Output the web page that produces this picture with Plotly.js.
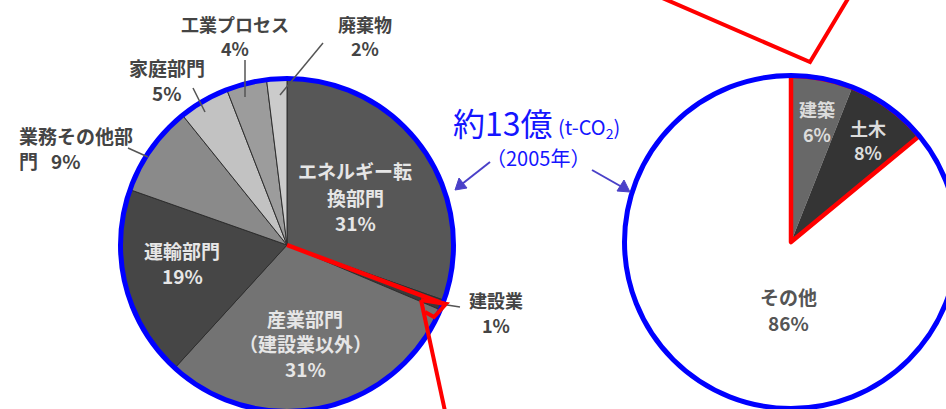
<!DOCTYPE html>
<html><head><meta charset="utf-8">
<script src="https://cdn.plot.ly/plotly-3.0.1.min.js"></script>
<style>html,body{margin:0;padding:0;overflow:hidden;background:#fff}#chart{width:970px;height:420px}</style>
</head><body><div id="chart"></div>
<script>
// ---- data ----
const mainLabels = ['エネルギー転換部門','建設業','産業部門（建設業以外）','運輸部門','業務その他部門','家庭部門','工業プロセス','廃棄物'];
const mainLines = [['エネルギー転','換部門'],['建設業'],['産業部門','（建設業以外）'],['運輸部門'],['業務その他部'],['家庭部門'],['工業プロセス'],['廃棄物']];
const mainValues = [31, 1, 31, 19, 9, 5, 4, 2];
const subLabels = ['建築','土木','その他'];
const subValues = [6, 8, 86];
const totalText = '約13億';
const unitText = '(t-CO<sub>2</sub>)';
const yearText = '（2005年）';

// ---- style ----
const mainColors = ['#575757','#3a3a3a','#737373','#464646','#8a8a8a','#c2c2c2','#9c9c9c','#cbcbcb'];
const subColors = ['#686868','#343434','#ffffff'];
const W = 970, H = 420;
const X = p => p / W, Y = p => 1 - p / H;
const L = {cx: 287, cy: 245, r: 166};
const R = {cx: 791, cy: 242, r: 166};
const font = 'Noto Sans CJK JP';

function dom(c){ return {x:[X(c.cx-c.r), X(c.cx+c.r)], y:[Y(c.cy+c.r), Y(c.cy-c.r)]}; }

const traces = [
  {type:'pie', labels: mainLabels, values: mainValues, sort:false, direction:'clockwise', rotation:0,
   marker:{colors: mainColors, line:{color:'#2e2e2e', width:1}}, textinfo:'none', hoverinfo:'skip', domain: dom(L)},
  {type:'pie', labels: subLabels, values: subValues, sort:false, direction:'clockwise', rotation:0,
   marker:{colors: subColors, line:{color:'rgba(0,0,0,0)', width:0}}, textinfo:'none', hoverinfo:'skip', domain: dom(R)},
  {type:'pie', labels: ['建設業（建築・土木）','その他 '], values: [subValues[0]+subValues[1], subValues[2]], sort:false, direction:'clockwise', rotation:0,
   marker:{colors:['rgba(0,0,0,0)','rgba(0,0,0,0)'], line:{color:['#ff0000','rgba(0,0,0,0)'], width:[4.5,0]}},
   textinfo:'none', hoverinfo:'skip', domain: dom(R)}
];

const total = mainValues.reduce((a,b)=>a+b,0);
const th = mainValues[0]/total*2*Math.PI;
const rimX = L.cx + L.r*Math.sin(th), rimY = L.cy - L.r*Math.cos(th);

const shapes = [
  {type:'circle', xref:'paper', yref:'paper', x0:X(L.cx-L.r-0.5), x1:X(L.cx+L.r+0.5), y0:Y(L.cy+L.r+0.5), y1:Y(L.cy-L.r-0.5), line:{color:'#0000ff', width:5}},
  {type:'circle', xref:'paper', yref:'paper', x0:X(R.cx-R.r-0.5), x1:X(R.cx+R.r+0.5), y0:Y(R.cy+R.r+0.5), y1:Y(R.cy-R.r-0.5), line:{color:'#0000ff', width:5}},
  {type:'line', xref:'paper', yref:'paper', x0:X(L.cx), y0:Y(L.cy), x1:X(rimX+1), y1:Y(rimY+4), line:{color:'#ff0000', width:4.5}},
  {type:'path', xref:'paper', yref:'paper', path:`M ${X(421)} ${Y(300)} L ${X(446)} ${Y(304)} L ${X(434)} ${Y(317)} L ${X(425)} ${Y(312)}`, line:{color:'#ff0000', width:4}},
  {type:'line', xref:'paper', yref:'paper', x0:X(421), y0:Y(300), x1:X(448), y1:Y(425), line:{color:'#ff0000', width:4}},
  {type:'path', xref:'paper', yref:'paper', path:`M ${X(660)} ${Y(-3)} L ${X(810)} ${Y(62)} L ${X(849)} ${Y(-3)}`, line:{color:'#ff0000', width:4}},
  // leader lines
  {type:'line', xref:'paper', yref:'paper', x0:X(323), y0:Y(43), x1:X(280), y1:Y(95), line:{color:'#555', width:1.5}},
  {type:'line', xref:'paper', yref:'paper', x0:X(245), y0:Y(60), x1:X(245), y1:Y(97), line:{color:'#555', width:1.5}},
  {type:'line', xref:'paper', yref:'paper', x0:X(193), y0:Y(88), x1:X(205), y1:Y(112), line:{color:'#555', width:1.5}},
  {type:'line', xref:'paper', yref:'paper', x0:X(128), y0:Y(148), x1:X(148), y1:Y(157), line:{color:'#555', width:1.5}},
  {type:'line', xref:'paper', yref:'paper', x0:X(447), y0:Y(305), x1:X(460), y1:Y(307), line:{color:'#555', width:1.5}},
  // arrows
  {type:'line', xref:'paper', yref:'paper', x0:X(490), y0:Y(162), x1:X(462), y1:Y(184), line:{color:'#4a40c8', width:2}},
  {type:'line', xref:'paper', yref:'paper', x0:X(592), y0:Y(170), x1:X(622), y1:Y(187), line:{color:'#4a40c8', width:2}},
  {type:'path', xref:'paper', yref:'paper', path:`M ${X(455)} ${Y(190)} L ${X(459)} ${Y(178)} L ${X(467)} ${Y(188)} Z`, fillcolor:'#4a40c8', line:{color:'#4a40c8', width:1}},
  {type:'path', xref:'paper', yref:'paper', path:`M ${X(630)} ${Y(192)} L ${X(617)} ${Y(191)} L ${X(624)} ${Y(180)} Z`, fillcolor:'#4a40c8', line:{color:'#4a40c8', width:1}}
];

const inC = '#e6e6e6', outC = '#444';
function ann(text, x, y, color, size, extra){
  return Object.assign({text, x:X(x), y:Y(y), xref:'paper', yref:'paper', showarrow:false, borderpad:0,
    font:{family:font, size, color, weight:'bold'}, xanchor:'center', yanchor:'middle'}, extra||{});
}
function block(lines, x, ys, color, size, extra){
  return lines.map((t, k) => ann(t, x, ys[k], color, size, extra));
}
const pct = v => v + '%';
const annotations = [].concat(
  block([...mainLines[0], pct(mainValues[0])], 355, [170, 197, 222], inC, 19),
  block([...mainLines[1], pct(mainValues[1])], 496, [300, 325], outC, 18),
  block([...mainLines[2], pct(mainValues[2])], 305, [318, 343, 368], inC, 19),
  block([...mainLines[3], pct(mainValues[3])], 182, [250, 275], inC, 19),
  block([mainLines[4][0], '門\u00a0\u00a0 ' + pct(mainValues[4])], 18, [135, 160], outC, 19, {xanchor:'left'}),
  block([...mainLines[5], pct(mainValues[5])], 167, [67, 92], outC, 19),
  block([...mainLines[6], pct(mainValues[6])], 235, [24, 48], outC, 18),
  block([...mainLines[7], pct(mainValues[7])], 365, [24, 48], outC, 18),
  block([subLabels[0], pct(subValues[0])], 817, [109, 134], '#dcdcdc', 18),
  block([subLabels[1], pct(subValues[1])], 868, [128, 152], '#dcdcdc', 18),
  block([subLabels[2], pct(subValues[2])], 788, [296, 322], '#555', 19),
  [
  {text: totalText, x:X(451), y:Y(122), xref:'paper', yref:'paper', showarrow:false, xanchor:'left', yanchor:'middle',
   font:{family:font, size:32, color:'#1515ff'}},
  {text: unitText, x:X(556), y:Y(127), xref:'paper', yref:'paper', showarrow:false, xanchor:'left', yanchor:'middle',
   font:{family:font, size:20, color:'#1515ff'}},
  {text: yearText, x:X(538), y:Y(157), xref:'paper', yref:'paper', showarrow:false, xanchor:'center', yanchor:'middle',
   font:{family:font, size:20, color:'#1515ff'}}
  ]
);

Plotly.newPlot('chart', traces, {
  width: W, height: H, margin:{l:0,r:0,t:0,b:0}, showlegend:false,
  paper_bgcolor:'#fff', plot_bgcolor:'#fff', shapes, annotations
}, {displayModeBar:false, staticPlot:true});
</script></body></html>
